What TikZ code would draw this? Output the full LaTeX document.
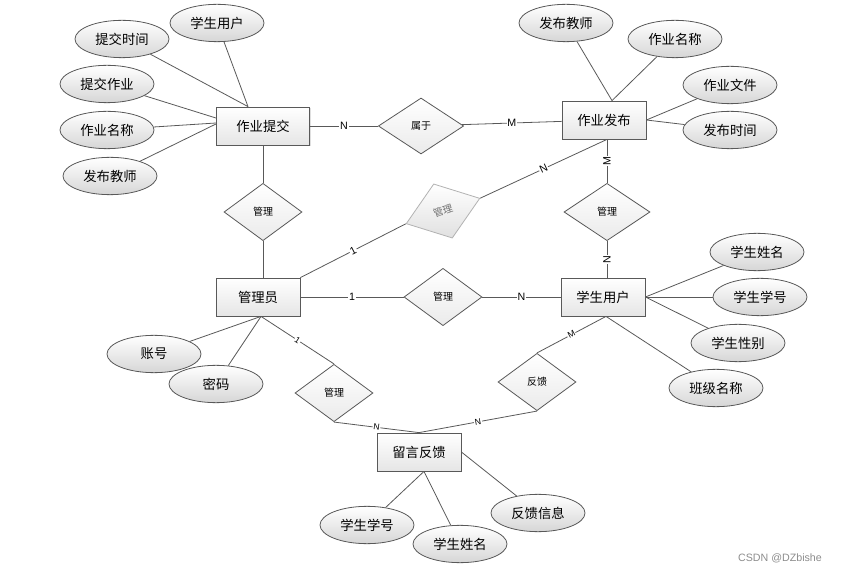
\documentclass[tikz,border=0pt]{standalone}
\usepackage{fontspec}
\setmainfont{Noto Sans CJK SC}
\newfontfamily\latfont{Liberation Sans}
\usetikzlibrary{shapes.geometric,calc,shadows}
\begin{document}
\begin{tikzpicture}[x=0.75pt,y=-0.75pt,
        entity/.style={draw=black!65,line width=0.6pt,top color=white,bottom color=black!10,
            minimum width=63pt,minimum height=28.5pt,inner sep=0pt,font=\fontsize{10}{12}\selectfont,
            drop shadow={shadow xshift=1pt,shadow yshift=-1pt,opacity=0.25}},
        attr/.style={ellipse,draw=black!65,line width=0.6pt,top color=white,bottom color=black!16,
            minimum width=70.5pt,minimum height=28pt,inner sep=0pt,font=\fontsize{10}{12}\selectfont},
        rel/.style={diamond,draw=black!65,line width=0.6pt,top color=white,bottom color=black!8,
            minimum width=58.5pt,minimum height=43pt,inner sep=0pt,font=\fontsize{7.5}{9}\selectfont},
        link/.style={draw=black!65,line width=0.6pt},
        card/.style={fill=white,inner sep=0.6pt,font=\latfont\fontsize{8}{9}\selectfont},
        smallcard/.style={card,font=\latfont\fontsize{6.5}{8}\selectfont}]
    \useasboundingbox (0,0) rectangle (856,573);
    % entities
    \node[entity,minimum width=70pt] (zt) at (263,126) {作业提交};
    \node[entity] (zf) at (604,120) {作业发布};
    \node[entity] (gly) at (258,297) {管理员};
    \node[entity] (xs) at (603,297) {学生用户};
    \node[entity] (ly) at (419,452) {留言反馈};
    % relations
    \node[rel,minimum width=64pt,minimum height=42pt] (sy) at (421,126) {属于};
    \node[rel] (gl1) at (263,212) {管理};
    \node[rel,rotate=19,draw=black!30,text=black!55,bottom color=black!12] (gl2) at (443,211) {管理};
    \node[rel,minimum width=64.5pt] (gl3) at (607,212) {管理};
    \node[rel] (gl4) at (443,297) {管理};
    \node[rel] (gl5) at (334,393) {管理};
    \node[rel] (fk) at (537,382) {反馈};
    % attachment points
    \coordinate (zt1) at ($(zt.north)+(-15,0)$);
    \coordinate (zf1) at ($(zf.north)+(8,0)$);
    \coordinate (zfb) at (gl3.north |- zf.south);
    \coordinate (gly1) at ($(gly.south)+(3,0)$);
    \coordinate (xs1) at ($(xs.south)+(3,0)$);
    \coordinate (ly1) at ($(ly.south)+(5,0)$);
    % attributes
    \foreach \n/\p/\t/\e in {a1/{217,23}/学生用户/zt1, a2/{122,39}/提交时间/zt1,
            b1/{566,23}/发布教师/zf1, b2/{675,39}/作业名称/zf1,
            b3/{730,85}/作业文件/zf.east, b4/{730,130}/发布时间/zf.east,
            c1/{154,354}/账号/gly1, c2/{216,384}/密码/gly1,
            d1/{757,252}/学生姓名/xs.east, d2/{760,297}/学生学号/xs.east,
            d3/{738,343}/学生性别/xs.east, d4/{716,388}/班级名称/xs1,
            e1/{367,525}/学生学号/ly1, e2/{460,544}/学生姓名/ly1, e3/{538,513}/反馈信息/ly.east} {
        \node[attr] (\n) at (\p) {\t};
        \draw[link] (\n) -- (\e);
    }
    \node[attr] (a3) at (107,84) {提交作业};
    \node[attr] (a4) at (107,130) {作业名称};
    \node[attr] (a5) at (110,176) {发布教师};
    \draw[link] (a3) -- ($(zt.west)+(0,-8)$);
    \draw[link] (a4) -- ($(zt.west)+(0,-3)$);
    \draw[link] (a5) -- ($(zt.west)+(0,-2)$);
    % relation links
    \draw[link] (zt) -- node[card]{N} (sy);
    \draw[link] (sy) -- node[card]{M} (zf);
    \draw[link] (zt.south -| gl1) -- (gl1.north);
    \draw[link] (gl1.south) -- (gl1.south |- gly.north);
    \draw[link] (gly.north east) -- node[card,sloped]{1} (gl2.west);
    \draw[link] (gl2.east) -- node[card,sloped]{N} (zfb);
    \draw[link] (zfb) -- node[card,rotate=90]{M} (gl3.north);
    \draw[link] (gl3.south) -- node[card,rotate=90]{N} (gl3.south |- xs.north);
    \draw[link] (gly) -- node[card]{1} (gl4);
    \draw[link] (gl4) -- node[card]{N} (xs);
    \draw[link] (gly1) -- node[smallcard,sloped]{1} (gl5.north);
    \draw[link] (gl5.south) -- node[smallcard,sloped]{N} (ly.north);
    \draw[link] (fk.south) -- node[smallcard,sloped]{N} (ly.north);
    \draw[link] (fk.north) -- node[smallcard,sloped]{M} (xs1);
    % watermark
    \node[text=black!45,font=\latfont\fontsize{8}{10}\selectfont] (wm) at (780,558) {CSDN @DZbishe};
\end{tikzpicture}
\end{document}
